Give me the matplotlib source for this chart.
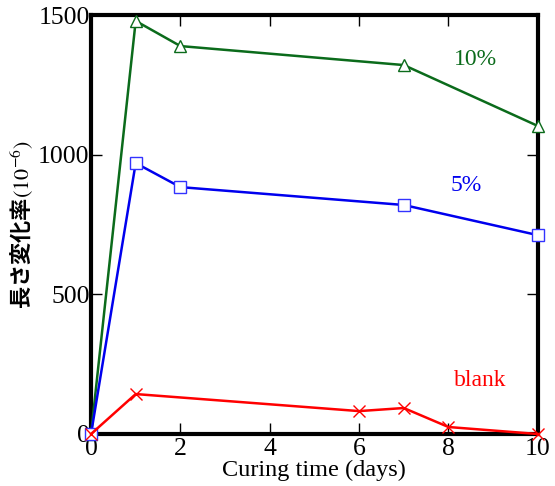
import matplotlib
matplotlib.use('Agg')
import matplotlib.pyplot as plt

plt.rcParams['font.family'] = ['Liberation Serif', 'DejaVu Serif']
plt.rcParams['mathtext.fontset'] = 'stix'

# data
days_10 = [0, 1, 2, 7, 10]
pct_10 = [0, 1479, 1389, 1321, 1103]
days_5 = [0, 1, 2, 7, 10]
pct_5 = [0, 970, 884, 820, 712]
days_blank = [0, 1, 6, 7, 8, 10]
blank = [0, 143, 82, 93, 25, 0]

fig = plt.figure(figsize=(5.55, 4.86), dpi=100)
ax = fig.add_axes([0.164, 0.107, 0.805, 0.862])

ax.plot(days_10, pct_10, color='#0b6b1b', lw=1.8, marker='^', ms=8,
        mfc='white', mec='#0b6b1b', mew=1, clip_on=False, zorder=3)
ax.plot(days_5, pct_5, color='#0000ee', lw=1.8, marker='s', ms=8,
        mfc='white', mec='#3333ff', mew=1, clip_on=False, zorder=3)
ax.plot(days_blank, blank, color='#ff0000', lw=1.8, marker='x', ms=8,
        mew=1, clip_on=False, zorder=3)

ax.text(8.6, 1340, '10%', color='#0b6b1b', fontsize=17, ha='center', va='center')
ax.text(8.4, 888, '5%', color='#0000ee', fontsize=17, ha='center', va='center')
ax.text(8.7, 193, 'blank', color='#ff0000', fontsize=17, ha='center', va='center')

ax.set_xlim(0, 10)
ax.set_ylim(0, 1500)
ax.set_xticks([0, 2, 4, 6, 8, 10])
ax.set_yticks([0, 500, 1000, 1500])
ax.tick_params(direction='in', top=True, right=True, length=8, width=1,
               labelsize=18.5, pad=1)
ax.tick_params(axis='x', pad=3)
for s in ax.spines.values():
    s.set_linewidth(3)

ax.set_xlabel('Curing time (days)', fontsize=17.5, labelpad=0)
ax.set_ylabel('長さ変化率$\\mathrm{(10^{-6})}$', fontsize=16, fontweight='bold',
              family=['Noto Sans CJK JP', 'DejaVu Sans'], labelpad=2)

fig.savefig('out.png', dpi=100)
